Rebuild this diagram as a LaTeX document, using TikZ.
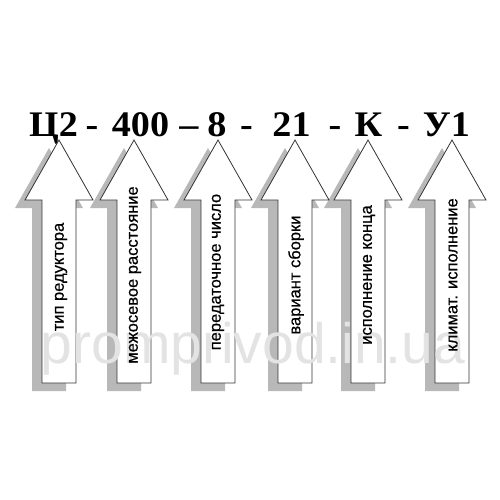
\documentclass[tikz,border=0pt]{standalone}
\usepackage{fontspec}
\setmainfont{Liberation Serif}
\newfontfamily\codefont[FakeStretch=1.06]{Liberation Serif}
\newfontfamily\lblfont[FakeBold=0.6]{Liberation Sans}
\newfontfamily\wmfont{Liberation Sans}

\begin{document}
\begin{tikzpicture}[x=1pt,y=-1pt,line join=miter,
  code/.style={anchor=base,inner sep=0pt,font=\fontsize{36}{40}\selectfont\codefont\bfseries},
  lbl/.style={rotate=90,inner sep=0pt,font=\fontsize{16.5}{19}\selectfont\lblfont},
  blockarrow/.style={draw=black!80,line width=0.8pt,fill=white},
  shadow/.style={fill=black!28,draw=none},
  wmark/.style={anchor=base,inner sep=0pt,text=black!11,font=\fontsize{57}{60}\selectfont\wmfont}]
  \useasboundingbox (0,0) rectangle (500,500);
  % Code: top line
  \node[code] (c1) at (53.5,136) {Ц2};
  \node[code] (s1) at (92,136) {-};
  \node[code] (c2) at (140.5,136) {400};
  \node[code] (s2) at (189,136) {–};
  \node[code] (c3) at (217,136) {8};
  \node[code] (s3) at (246.5,136) {-};
  \node[code] (c4) at (291.5,136) {21};
  \node[code] (s4) at (335,136) {-};
  \node[code] (c5) at (368.5,136) {К};
  \node[code] (s5) at (403.5,136) {-};
  \node[code] (c6) at (446.5,136) {У1};
  % Shadows
  \begin{scope}[shift={(-10,8)}]
  \fill[shadow] (59,140) -- (93,200) -- (76,200) -- (76,383) -- (42,383) -- (42,200) -- (25,200) -- cycle;
  \fill[shadow] (134,140) -- (168,200) -- (151,200) -- (151,383) -- (117,383) -- (117,200) -- (100,200) -- cycle;
  \fill[shadow] (218,140) -- (252,200) -- (235,200) -- (235,383) -- (201,383) -- (201,200) -- (184,200) -- cycle;
  \fill[shadow] (295,140) -- (329,200) -- (312,200) -- (312,383) -- (278,383) -- (278,200) -- (261,200) -- cycle;
  \fill[shadow] (368,140) -- (402,200) -- (385,200) -- (385,383) -- (351,383) -- (351,200) -- (334,200) -- cycle;
  \fill[shadow] (452,140) -- (486,200) -- (469,200) -- (469,383) -- (435,383) -- (435,200) -- (418,200) -- cycle;
  \end{scope}
  % Arrow: c1
  \draw[blockarrow] (59,140) -- (93,200) -- (76,200) -- (76,383) -- (42,383) -- (42,200) -- (25,200) -- cycle;
  % Arrow: c2
  \draw[blockarrow] (134,140) -- (168,200) -- (151,200) -- (151,383) -- (117,383) -- (117,200) -- (100,200) -- cycle;
  % Arrow: c3
  \draw[blockarrow] (218,140) -- (252,200) -- (235,200) -- (235,383) -- (201,383) -- (201,200) -- (184,200) -- cycle;
  % Arrow: c4
  \draw[blockarrow] (295,140) -- (329,200) -- (312,200) -- (312,383) -- (278,383) -- (278,200) -- (261,200) -- cycle;
  % Arrow: c5
  \draw[blockarrow] (368,140) -- (402,200) -- (385,200) -- (385,383) -- (351,383) -- (351,200) -- (334,200) -- cycle;
  % Arrow: c6
  \draw[blockarrow] (452,140) -- (486,200) -- (469,200) -- (469,383) -- (435,383) -- (435,200) -- (418,200) -- cycle;
  % Watermark
  \node[wmark] (wm) at (253,363) {promprivod.in.ua};
  % Labels
  \node[lbl] (l1) at (61,277) {тип редуктора};
  \node[lbl] (l2) at (135,275) {межосевое расстояние};
  \node[lbl] (l3) at (218,272) {передаточное число};
  \node[lbl] (l4) at (296,275) {вариант сборки};
  \node[lbl] (l5) at (369,275) {исполнение конца};
  \node[lbl] (l6) at (453,275) {климат. исполнение};
\end{tikzpicture}
\end{document}
